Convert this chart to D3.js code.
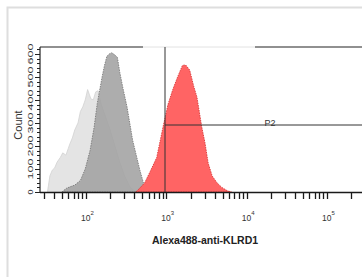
<!DOCTYPE html>
<html>
<head>
<meta charset="utf-8">
<script src="https://cdn.jsdelivr.net/npm/d3@7"></script>
<style>
  body { margin: 0; background: #fff; }
  svg { display: block; font-family: "Liberation Sans", Arial, sans-serif; }
</style>
</head>
<body>
<script>
var width = 362;
var height = 277;

// log10 of fluorescence for each bin, with counts
var isoLog   = [1.52, 1.55, 1.58, 1.61, 1.64, 1.68, 1.71, 1.75, 1.78, 1.80, 1.83, 1.86, 1.90, 1.93, 1.96, 1.99, 2.02, 2.04, 2.06, 2.09, 2.12, 2.15, 2.19, 2.24, 2.30, 2.36, 2.42, 2.48, 2.55, 2.62];
var isoCount = [0, 70, 95, 105, 130, 150, 170, 160, 190, 210, 235, 270, 300, 350, 370, 400, 445, 425, 405, 400, 435, 440, 380, 330, 270, 200, 130, 70, 20, 0];

var ctlLog   = [1.70, 1.76, 1.86, 1.93, 1.99, 2.05, 2.10, 2.14, 2.20, 2.23, 2.26, 2.29, 2.32, 2.36, 2.39, 2.42, 2.46, 2.51, 2.58, 2.67, 2.73, 2.80];
var ctlCount = [0, 17, 30, 50, 100, 180, 280, 385, 500, 550, 590, 600, 605, 595, 585, 520, 450, 370, 225, 95, 20, 0];

var klrLog   = [2.62, 2.67, 2.73, 2.80, 2.88, 2.96, 3.02, 3.08, 3.14, 3.20, 3.24, 3.29, 3.34, 3.38, 3.44, 3.48, 3.52, 3.57, 3.63, 3.69, 3.76, 3.81];
var klrCount = [0, 17, 40, 90, 150, 285, 380, 445, 500, 550, 552, 530, 460, 413, 283, 215, 126, 70, 40, 20, 5, 0];

var yTicks = [0, 100, 200, 300, 400, 500, 600];
var xTickLabels = [2, 3, 4, 5];

var plot = {left: 40, top: 47, right: 366, bottom: 192};

var svg = d3.select("body").append("svg").attr("width", width).attr("height", height);

// outer light panel
svg.append("rect").attr("x", 7.5).attr("y", 7.5).attr("width", 400).attr("height", 300)
  .attr("fill", "none").attr("stroke", "#dedede").attr("stroke-width", 2);

var x = d3.scaleLog().domain([Math.pow(10, 1.427), Math.pow(10, 5.485)]).range([plot.left, plot.right]);
var y = d3.scaleLinear().domain([0, 630]).range([plot.bottom, plot.top]);

var area = function(logs, counts) {
  var pts = logs.map(function(l, i) { return [Math.pow(10, l), counts[i]]; });
  return d3.area().x(function(d) { return x(d[0]); }).y0(y(0)).y1(function(d) { return y(d[1]); })(pts);
};

svg.append("path").attr("d", area(isoLog, isoCount))
  .attr("fill", "#e4e4e4").attr("stroke", "#d2d2d2").attr("stroke-width", 0.8);
svg.append("path").attr("d", area(ctlLog, ctlCount))
  .attr("fill", "#a2a2a2").attr("fill-opacity", 0.88)
  .attr("stroke", "#7a7a7a").attr("stroke-width", 0.9).attr("stroke-dasharray", "1.5,1");
svg.append("path").attr("d", area(klrLog, klrCount))
  .attr("fill", "#ff6464")
  .attr("stroke", "#d83838").attr("stroke-width", 0.9).attr("stroke-dasharray", "1.5,1");

// frame
svg.append("line").attr("x1", plot.left).attr("x2", plot.left).attr("y1", plot.top).attr("y2", plot.bottom)
  .attr("stroke", "#222").attr("stroke-width", 1.2);
svg.append("line").attr("x1", plot.left).attr("x2", 143).attr("y1", plot.top).attr("y2", plot.top)
  .attr("stroke", "#222").attr("stroke-width", 1.2);
svg.append("line").attr("x1", 143).attr("x2", 255).attr("y1", plot.top).attr("y2", plot.top)
  .attr("stroke", "#e2e2e2").attr("stroke-width", 1);
svg.append("line").attr("x1", 255).attr("x2", plot.right).attr("y1", plot.top).attr("y2", plot.top)
  .attr("stroke", "#222").attr("stroke-width", 1.2);

// x ticks, decades plus log minor ticks, drawn as one path
var xTickVals = [];
d3.range(1, 6).forEach(function(p) {
  d3.range(1, 10).forEach(function(m) {
    var v = m * Math.pow(10, p);
    if (v >= x.domain()[0] && v <= x.domain()[1]) xTickVals.push(v);
  });
});
var tickPath = d3.path();
tickPath.moveTo(plot.left, plot.bottom + 0.5);
tickPath.lineTo(plot.right, plot.bottom + 0.5);
xTickVals.forEach(function(d) {
  var px = Math.round(x(d)) + 0.5;
  tickPath.moveTo(px, plot.bottom);
  tickPath.lineTo(px, plot.bottom + 7);
});
svg.append("path").attr("d", tickPath.toString())
  .attr("fill", "none").attr("stroke", "#1a1a1a").attr("stroke-width", 1.3);

var lab = svg.append("g").attr("font-size", 8.5).attr("fill", "#333");
xTickLabels.forEach(function(p) {
  var t = lab.append("text").attr("x", x(Math.pow(10, p)) - 5).attr("y", 221);
  t.append("tspan").text("10");
  t.append("tspan").attr("dy", -6).attr("font-size", 6).text(p);
});

svg.append("text").attr("x", 205).attr("y", 244).attr("text-anchor", "middle")
  .attr("font-size", 10.5).attr("font-weight", "bold").attr("fill", "#222")
  .text("Alexa488-anti-KLRD1");

// y axis ticks
var yPath = d3.path();
d3.range(0, 621, 20).forEach(function(d) {
  var py = Math.round(y(d)) + 0.5;
  yPath.moveTo(plot.left, py);
  yPath.lineTo(d % 100 === 0 ? plot.left - 5 : plot.left - 3, py);
});
svg.append("path").attr("d", yPath.toString())
  .attr("fill", "none").attr("stroke", "#222").attr("stroke-width", 1);

yTicks.forEach(function(v) {
  var w = v === 0 ? 5 : 21;
  svg.append("text")
    .attr("transform", "translate(33," + y(v) + ") rotate(-90)")
    .attr("text-anchor", "middle").attr("font-size", 8).attr("fill", "#333")
    .attr("textLength", w).attr("lengthAdjust", "spacingAndGlyphs")
    .text(v);
});

svg.append("text").attr("transform", "translate(22,125) rotate(-90)")
  .attr("text-anchor", "middle").attr("font-size", 11).attr("fill", "#333").text("Count");

// gate P2
svg.append("line").attr("x1", 165).attr("x2", 165).attr("y1", plot.top).attr("y2", plot.bottom)
  .attr("stroke", "#333").attr("stroke-width", 1);
svg.append("line").attr("x1", 165).attr("x2", plot.right).attr("y1", 125).attr("y2", 125)
  .attr("stroke", "#333").attr("stroke-width", 1);
svg.append("text").attr("x", 270).attr("y", 126).attr("text-anchor", "middle")
  .attr("font-size", 9).attr("fill", "#333").text("P2");
</script>
</body>
</html>
